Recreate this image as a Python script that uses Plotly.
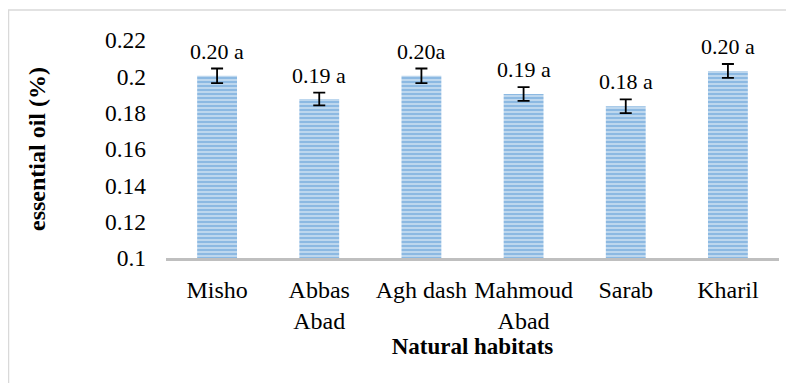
import plotly.graph_objects as go

categories = ["Misho", "Abbas<br>Abad", "Agh dash", "Mahmoud<br>Abad", "Sarab", "Kharil"]
values = [0.2003, 0.1875, 0.2003, 0.1903, 0.1835, 0.2030]
errors = [0.0040, 0.0035, 0.0040, 0.0038, 0.0038, 0.0038]
labels = ["0.20 a", "0.19 a", "0.20a", "0.19 a", "0.18 a", "0.20 a"]
yticks = [0.1, 0.12, 0.14, 0.16, 0.18, 0.2, 0.22]
ytick_text = ["0.1", "0.12", "0.14", "0.16", "0.18", "0.2", "0.22"]
BASE = 0.1

FONT = "Liberation Serif"

fig = go.Figure()
fig.add_trace(go.Bar(
    x=categories, y=[v - BASE for v in values],
    base=BASE,
    marker=dict(
        color="#b7d1ee",
        line=dict(width=0),
        pattern=dict(shape="-", bgcolor="#bdd7ee", fgcolor="#5b9bd5", size=4, solidity=0.5),
    ),
    error_y=dict(type="data", array=errors, visible=True, color="black", thickness=1.8, width=6),
    width=0.39,
))

for c, v, e, t in zip(categories, values, errors, labels):
    fig.add_annotation(x=c, y=v + e, text=t, showarrow=False, yanchor="bottom", yshift=3,
                       font=dict(family=FONT, size=22, color="black"))

L, T, PW, PH = 158, 32, 613, 218

fig.update_layout(
    width=794, height=383,
    margin=dict(l=L, r=794 - L - PW, t=T, b=383 - T - PH),
    paper_bgcolor="white", plot_bgcolor="white",
    showlegend=False,
    font=dict(family=FONT, size=22, color="black"),
    xaxis=dict(
        showline=True, linecolor="#bfbfbf", linewidth=2.5,
        ticks="", showgrid=False,
        tickfont=dict(family=FONT, size=24, color="black"),
        ticklabelstandoff=8,
        title=dict(text="<b>Natural habitats</b>", font=dict(family=FONT, size=23), standoff=4),
    ),
    yaxis=dict(
        range=[0.1, 0.22], tickvals=yticks, ticktext=ytick_text,
        showgrid=False, zeroline=False, showline=False, ticks="",
        tickfont=dict(family=FONT, size=23.5, color="black"),
        ticklabelstandoff=19,
        title=dict(text="<b>essential oil (%)</b>", font=dict(family=FONT, size=24), standoff=52),
    ),
    shapes=[dict(type="rect", xref="paper", yref="paper",
                 x0=(0.5 - L) / PW, x1=(800 - L) / PW,
                 y0=(T + PH - 400) / PH, y1=(T + PH - 2) / PH,
                 line=dict(color="#d9d9d9", width=1.5), layer="below")],
)

fig.write_html("out.html")
